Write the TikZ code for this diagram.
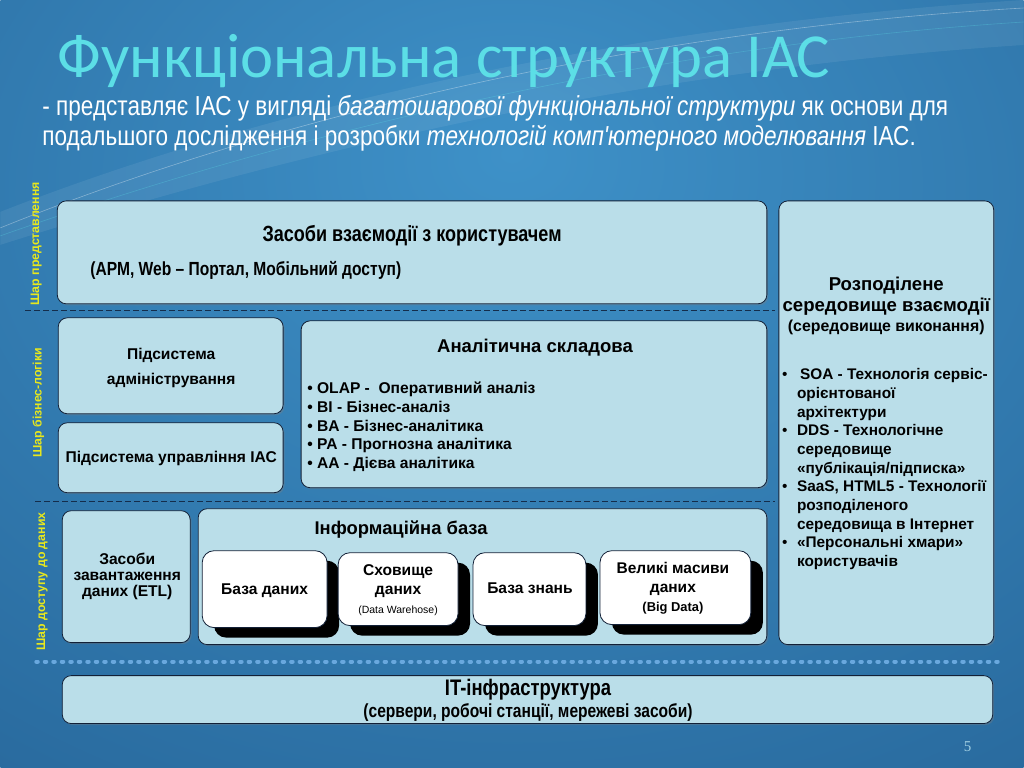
\documentclass[tikz,border=0pt]{standalone}
\usepackage{fontspec}
\setmainfont{Liberation Sans}
\newfontfamily\narrowfont{Liberation Sans}[FakeStretch=0.82]
\newfontfamily\titlefont{Carlito}
\newfontfamily\pagefont{Liberation Serif}
\usepackage{xcolor}
\usetikzlibrary{positioning, shadows}
\definecolor{bgdark}{RGB}{17,62,110}
\definecolor{bglight}{RGB}{62,145,200}
\definecolor{boxfill}{RGB}{186,222,233}
\definecolor{boxline}{RGB}{18,32,55}
\definecolor{titlecyan}{RGB}{92,222,230}
\definecolor{layeryellow}{RGB}{232,232,28}
\definecolor{dotblue}{RGB}{105,168,222}
\definecolor{sepnavy}{RGB}{20,45,75}
\pgfdeclareradialshading{slidebg}{\pgfpoint{0bp}{15bp}}{color(0bp)=(bglight); color(95bp)=(bgdark); color(150bp)=(bgdark)}

\begin{document}
\begin{tikzpicture}[x=1pt, y=-1pt,
    layer/.style={draw=boxline, fill=boxfill, line width=0.8pt, rounded corners=9pt, inner sep=0pt,
      drop shadow={shadow xshift=1.5pt, shadow yshift=-1.5pt, opacity=0.35}},
    store/.style={draw=boxline, fill=white, line width=0.8pt, rounded corners=12pt, inner sep=0pt,
      drop shadow={shadow xshift=12pt, shadow yshift=-10pt, fill=black, opacity=1}},
    txt/.style={inner sep=0pt, text=black, font=\bfseries\fontsize{15.6}{18}\selectfont},
    narrowtxt/.style={inner sep=0pt, text=black, font=\narrowfont\bfseries\fontsize{22}{24}\selectfont},
    layerlabel/.style={inner sep=0pt, rotate=90, text=layeryellow, font=\bfseries\fontsize{12.3}{14}\selectfont},
    layersep/.style={draw=sepnavy, line width=0.9pt, dash pattern=on 6pt off 3pt}
  ]
  % background
  \shade[shading=slidebg] (0,0) rectangle (1024,768);
  \fill[white, opacity=0.07] (0,212) .. controls (260,110) and (620,25) .. (1024,0) -- (1024,45) .. controls (640,70) and (300,150) .. (0,245) -- cycle;
  \draw[white, opacity=0.35, line width=0.6pt] (0,228) .. controls (280,115) and (640,30) .. (1024,8);
  \draw[titlecyan, opacity=0.3, line width=0.6pt] (0,236) .. controls (300,130) and (660,45) .. (1024,22);
  \useasboundingbox (0,0) rectangle (1024,768);

  % title and subtitle
  \node[anchor=base west, inner sep=0pt, text=titlecyan, font=\titlefont\fontsize{62.7}{66}\selectfont] (title) at (57,78) {Функціональна структура ІАС};
  \node[anchor=base west, inner sep=0pt, text=white, align=left, font=\narrowfont\fontsize{27.5}{30}\selectfont] (subtitle) at (42,146)
    {- представляє ІАС у вигляді \textit{багатошарової функціональної структури} як основи для\\
     подальшого дослідження і розробки \textit{технологій комп'ютерного моделювання} ІАС.};

  % layer labels and separators
  \node[layerlabel] (lpres) at (36,244) {Шар представлення};
  \node[layerlabel] (llogic) at (38,403) {Шар бізнес-логіки};
  \node[layerlabel] (ldata) at (42,582) {Шар доступу до даних};
  \draw[layersep] (25,311) -- (775,311);
  \draw[layersep] (35,502) -- (775,502);
  \draw[dotblue, line width=4pt, line cap=round, dash pattern=on 1.5pt off 7pt] (36,662) -- (1000,662);

  % presentation layer
  \node[layer, minimum width=710pt, minimum height=103pt] (ui) at (412,252.5) {};
  \node[narrowtxt, anchor=base] (uititle) at (412,242) {Засоби взаємодії з користувачем};
  \node[narrowtxt, anchor=base west, font=\narrowfont\bfseries\fontsize{19}{21}\selectfont] (uinote) at (90,276) {(АРМ, Web – Портал, Мобільний доступ)};

  % distributed environment
  \node[layer, minimum width=215pt, minimum height=444pt] (env) at (886.5,423) {};
  \node[txt, anchor=base, align=center, font=\bfseries\fontsize{18.6}{21}\selectfont] (envtitle) at (886.5,312)
    {Розподілене\\ середовище взаємодії};
  \node[txt, anchor=base, font=\bfseries\fontsize{15.9}{18}\selectfont] (envnote) at (886.5,332) {(середовище виконання)};
  \node[txt, anchor=base west, align=left, font=\bfseries\fontsize{15.4}{18.7}\selectfont] (envlist) at (782,567)
    {\makebox[15pt][l]{\normalfont•}\hspace{3pt}SOA - Технологія сервіс-\\
     \hspace*{15pt}орієнтованої\\
     \hspace*{15pt}архітектури\\
     \makebox[15pt][l]{\normalfont•}DDS - Технологічне\\
     \hspace*{15pt}середовище\\
     \hspace*{15pt}«публікація/підписка»\\
     \makebox[15pt][l]{\normalfont•}SaaS, HTML5 - Технології\\
     \hspace*{15pt}розподіленого\\
     \hspace*{15pt}середовища в Інтернет\\
     \makebox[15pt][l]{\normalfont•}«Персональні хмари»\\
     \hspace*{15pt}користувачів};

  % business logic layer
  \node[layer, minimum width=225pt, minimum height=96pt] (admin) at (170.5,366) {};
  \node[txt, anchor=base, align=center, font=\bfseries\fontsize{15.6}{25}\selectfont] (admintext) at (171,385) {Підсистема\\ адміністрування};
  \node[layer, minimum width=225pt, minimum height=70pt] (mgmt) at (170.5,458) {};
  \node[txt, anchor=base] (mgmttext) at (171,463) {Підсистема управління ІАС};
  \node[layer, minimum width=466pt, minimum height=167pt] (analytic) at (534,404.5) {};
  \node[txt, anchor=base, font=\bfseries\fontsize{18.5}{20}\selectfont] (analytictitle) at (535,353) {Аналітична складова};
  \node[txt, anchor=base west, align=left, font=\bfseries\fontsize{15.6}{18.75}\selectfont] (analyticlist) at (307,469)
    {• OLAP -\ \ Оперативний аналіз\\
     • BI - Бізнес-аналіз\\
     • BA - Бізнес-аналітика\\
     • PA - Прогнозна аналітика\\
     • AA - Дієва аналітика};

  % data access layer
  \node[layer, minimum width=128pt, minimum height=132pt] (etl) at (126,577) {};
  \node[txt, anchor=base, align=center, font=\bfseries\fontsize{15.6}{16}\selectfont] (etltext) at (127,597) {Засоби\\ завантаження\\ даних (ETL)};
  \node[layer, minimum width=569pt, minimum height=136pt] (infobase) at (482.5,577) {};
  \node[txt, anchor=base, font=\bfseries\fontsize{18.4}{20}\selectfont] (infotitle) at (401,535) {Інформаційна база};
  \node[store, minimum width=125pt, minimum height=77pt] (db) at (264.5,589.5) {};
  \node[txt, anchor=base] (dbtext) at (264.5,595) {База даних};
  \node[store, minimum width=120pt, minimum height=73pt] (dwh) at (398,589.5) {};
  \node[txt, anchor=base, align=center, font=\bfseries\fontsize{15.6}{19}\selectfont] (dwhtext) at (398,595) {Сховище\\ даних};
  \node[txt, anchor=base, font=\fontsize{10.5}{12}\selectfont] (dwhnote) at (398,614) {(Data Warehose)};
  \node[store, minimum width=113pt, minimum height=73pt] (kb) at (529.5,589.5) {};
  \node[txt, anchor=base] (kbtext) at (530,594) {База знань};
  \node[store, minimum width=151pt, minimum height=74pt] (bigdata) at (675.5,588) {};
  \node[txt, anchor=base, align=center, font=\bfseries\fontsize{15.5}{19}\selectfont] (bigdatatext) at (673,593) {Великі масиви\\ даних};
  \node[txt, anchor=base, font=\bfseries\fontsize{12.9}{14}\selectfont] (bigdatanote) at (673,612) {(Big Data)};

  % infrastructure
  \node[layer, minimum width=931pt, minimum height=48pt] (infra) at (527.5,700) {};
  \node[narrowtxt, anchor=base, font=\narrowfont\bfseries\fontsize{22.5}{24}\selectfont] (infratitle) at (528,696) {IT-інфраструктура};
  \node[narrowtxt, anchor=base, font=\narrowfont\bfseries\fontsize{19}{21}\selectfont] (infranote) at (528,718) {(сервери, робочі станції, мережеві засоби)};

  \node[anchor=base, inner sep=0pt, text=boxfill!80!bglight, font=\pagefont\fontsize{15}{18}\selectfont] (pagenum) at (968,752) {5};
\end{tikzpicture}
\end{document}
